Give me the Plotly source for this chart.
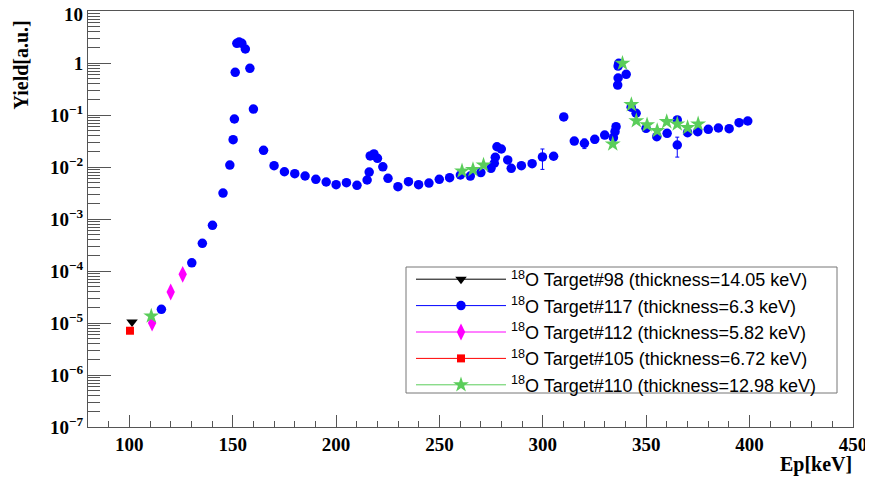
import plotly.graph_objects as go

# ---------------- data ----------------
t98_x = [101.3]
t98_y = [1.05e-5]

t117_x = [115.5, 130.2, 135.3, 140.2, 145.3, 148.6, 150.2, 150.8, 151.2, 152.0,
          153.1, 154.4, 156.1, 158.3, 160.0, 164.9, 170.0, 175.0, 180.0, 185.0,
          190.2, 195.2, 200.0, 205.0, 210.1, 215.0, 216.0, 216.5, 218.3, 220.0,
          222.6, 225.1, 229.9, 235.0, 239.9, 244.9, 249.9, 254.9, 260.1, 264.9,
          270.0, 274.9, 276.5, 277.0, 277.8, 279.9, 283.0, 284.7, 289.6, 294.8,
          299.8, 305.2, 310.1, 315.2, 320.1, 325.1, 329.9, 334.1, 334.9, 335.4,
          336.2, 336.4, 336.4, 336.7, 340.3, 342.7, 345.1, 349.9, 355.1, 360.1,
          365.0, 365.0, 370.0, 374.9, 380.0, 384.9, 390.1, 394.9, 399.1]
t117_y = [1.83e-5, 1.44e-4, 3.41e-4, 7.57e-4, 3.16e-3, 0.0109, 0.0335, 0.0838, 0.662, 2.39,
          2.53, 2.39, 1.86, 0.79, 0.130, 0.0209, 0.0106, 0.0081, 0.00743, 0.00671,
          0.00579, 0.00515, 0.00457, 0.00499, 0.00445, 0.00562, 0.0080, 0.0163, 0.0178, 0.0147,
          0.0101, 0.00607, 0.00418, 0.00521, 0.00457, 0.00492, 0.00579, 0.00622, 0.00702, 0.0067,
          0.0078, 0.00944, 0.0118, 0.0154, 0.0245, 0.0222, 0.0137, 0.00944, 0.0106, 0.0116,
          0.0156, 0.0161, 0.0916, 0.0316, 0.0286, 0.0341, 0.0412, 0.0366, 0.0478, 0.0596,
          0.377, 0.515, 0.875, 0.986, 0.606, 0.141, 0.108, 0.0555, 0.0383, 0.0444,
          0.0802, 0.0265, 0.0457, 0.0478, 0.0531, 0.0562, 0.0546, 0.0711, 0.0767]
t117_err = [0] * 50 + [0.0066, 0, 0, 0, 0.006, 0.005, 0, 0, 0, 0,
                       0, 0, 0, 0, 0, 0, 0, 0, 0, 0.006,
                       0, 0.011, 0, 0, 0, 0, 0, 0, 0]

t112_x = [111.0, 120.0, 125.8]
t112_y = [1.0e-5, 3.95e-5, 8.65e-5]

t105_x = [100.3]
t105_y = [7.1e-6]

t110_x = [110.6, 260.9, 266.2, 271.3, 333.8, 338.5, 342.8, 345.2, 350.4, 355.3,
          359.9, 365.0, 370.0, 375.1]
t110_y = [1.36e-5, 0.00837, 0.0089, 0.0109, 0.0277, 0.986, 0.158, 0.0776, 0.0643, 0.0499,
          0.0743, 0.0671, 0.057, 0.0671]

legend_names = [
    "<sup>18</sup>O Target#98 (thickness=14.05 keV)",
    "<sup>18</sup>O Target#117 (thickness=6.3 keV)",
    "<sup>18</sup>O Target#112 (thickness=5.82 keV)",
    "<sup>18</sup>O Target#105 (thickness=6.72 keV)",
    "<sup>18</sup>O Target#110 (thickness=12.98 keV)",
]

# the top label "10" sits at the very top edge; it is drawn as an annotation below
y_tickvals = [1e-7, 1e-6, 1e-5, 1e-4, 1e-3, 1e-2, 1e-1, 1, 10]
y_ticktext = ["10<sup>−7</sup>", "10<sup>−6</sup>", "10<sup>−5</sup>", "10<sup>−4</sup>",
              "10<sup>−3</sup>", "10<sup>−2</sup>", "10<sup>−1</sup>", "1", ""]
y_top_label = "10"
x_tickvals = [100, 150, 200, 250, 300, 350, 400, 450]

# ---------------- styles ----------------
BLUE = "#0000ff"
GREEN = "#5acd5a"
PINK = "#ff00ff"
RED = "#ff0000"
BLACK = "#000000"

series = [
    (t98_x, t98_y, None, BLACK, "triangle-down", 10),
    (t117_x, t117_y, t117_err, BLUE, "circle", 9.5),
    (t112_x, t112_y, None, PINK, "diamond-tall", 12),
    (t105_x, t105_y, None, RED, "square", 8),
    (t110_x, t110_y, None, GREEN, "star", 12),
]

fig = go.Figure()
for (xs, ys, errs, col, sym, sz) in series:
    kw = {}
    if errs is not None:
        kw["error_y"] = dict(type="data", array=errs, color=col, thickness=1, width=2)
    fig.add_trace(go.Scatter(x=xs, y=ys, mode="markers", showlegend=False,
                             marker=dict(color=col, symbol=sym, size=sz, line=dict(width=0)),
                             **kw))

# legend entries (line + marker like ROOT "lp")
for (xs, ys, errs, col, sym, sz), name in zip(series, legend_names):
    fig.add_trace(go.Scatter(x=[None], y=[None], mode="lines+markers", name=name,
                             line=dict(color=col, width=1),
                             marker=dict(color=col, symbol=sym, size=sz, line=dict(width=0))))

# page layout (page pixels); the figure div sits 8px in from the page corner
OFF = 8
PAGE_W, PAGE_H = 873, 478
FRAME_L, FRAME_R, FRAME_T, FRAME_B = 88, 853, 11, 427
W, H = PAGE_W - OFF, PAGE_H - OFF
L, T = FRAME_L - OFF, FRAME_T - OFF
R = PAGE_W - FRAME_R
B = PAGE_H - FRAME_B
pw, ph = FRAME_R - FRAME_L, FRAME_B - FRAME_T

def px2paper_x(px):
    return (px - FRAME_L) / pw

def px2paper_y(py):
    return (FRAME_B - py) / ph

minor_y = [m * 10.0 ** k for k in range(-7, 1) for m in range(2, 10)]

axis_font = dict(family="Liberation Serif", size=19, color="black", weight="bold")
title_font = dict(family="Liberation Serif", size=20, color="black", weight="bold")

fig.update_layout(
    width=W, height=H,
    margin=dict(l=L, r=R, t=T, b=B, autoexpand=False),
    paper_bgcolor="white", plot_bgcolor="white",
    xaxis=dict(range=[80, 450], showgrid=False, zeroline=False, automargin=False,
               showline=True, mirror=True, linecolor="#555555", linewidth=1,
               ticks="inside", ticklen=12, tickcolor="#555555", tickwidth=1,
               tickvals=x_tickvals, ticktext=[str(v) for v in x_tickvals],
               tickfont=axis_font, ticklabeloverflow="allow",
               minor=dict(ticks="inside", ticklen=6, dtick=10, tick0=80,
                          tickcolor="#555555", showgrid=False)),
    yaxis=dict(type="log", range=[-7, 1], showgrid=False, zeroline=False, automargin=False,
               showline=True, mirror=True, linecolor="#555555", linewidth=1,
               ticks="inside", ticklen=23, tickcolor="#555555", tickwidth=1,
               tickvals=y_tickvals, ticktext=y_ticktext, tickfont=axis_font,
               ticklabeloverflow="allow",
               minor=dict(ticks="inside", ticklen=12, tickvals=minor_y,
                          tickcolor="#555555", showgrid=False)),
    legend=dict(x=px2paper_x(411), y=px2paper_y(261), xanchor="left", yanchor="top",
                bgcolor="rgba(0,0,0,0)", borderwidth=0,
                font=dict(family="Liberation Sans", size=18, color="black"),
                itemwidth=90, tracegroupgap=0),
    shapes=[dict(type="rect", xref="paper", yref="paper",
                 x0=px2paper_x(406), x1=px2paper_x(837),
                 y0=px2paper_y(393), y1=px2paper_y(267),
                 line=dict(color="#777777", width=1), fillcolor="white", layer="above")],
    annotations=[
        dict(text="Yield[a.u.]", xref="paper", yref="paper",
             x=px2paper_x(20), y=px2paper_y(19), xanchor="center", yanchor="top",
             textangle=-90, showarrow=False, font=title_font),
        dict(text="Ep[keV]", xref="paper", yref="paper",
             x=px2paper_x(854), y=px2paper_y(464), xanchor="right", yanchor="middle",
             showarrow=False, font=title_font),
        dict(text=y_top_label, xref="paper", yref="paper",
             x=px2paper_x(85), y=px2paper_y(14.5), xanchor="right", yanchor="middle",
             showarrow=False, font=axis_font),
    ],
)

fig.write_html("out.html")
